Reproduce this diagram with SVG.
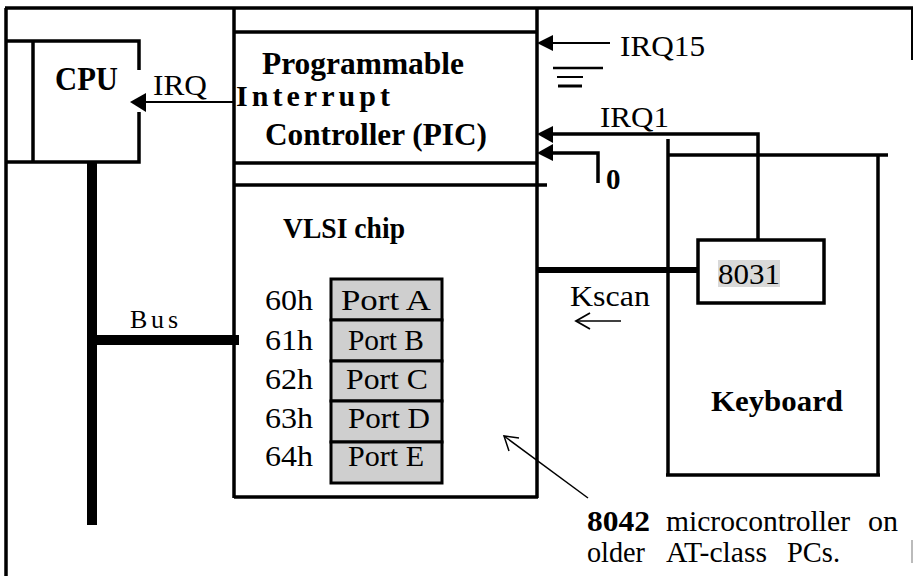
<svg xmlns="http://www.w3.org/2000/svg" width="914" height="576" viewBox="0 0 914 576" font-family="Liberation Serif, Times New Roman, serif" font-size="30">
<style>
  .ln{stroke:#000;stroke-width:3.5;fill:none}
  .thin{stroke:#000;stroke-width:2;fill:none}
  .t{fill:#000}
  .b{font-weight:bold}
  .port{fill:#cfcfcf;stroke:#000;stroke-width:3}
  .ah{fill:#000}
</style>
<rect width="914" height="576" fill="#fff"/>
<g id="frame">
  <line class="ln" x1="5" y1="8" x2="913" y2="8"/>
  <line class="ln" x1="6" y1="8" x2="6" y2="576"/>
  <line class="thin" x1="912" y1="8" x2="912" y2="60"/>
  <line stroke="#bbb" stroke-width="2" x1="912" y1="540" x2="912" y2="563"/>
</g>
<g id="cpu">
  <polyline class="ln" points="139,70 139,41 6,41"/>
  <polyline class="ln" points="139,112 139,162 6,162"/>
  <line class="ln" x1="33" y1="41" x2="33" y2="162"/>
  <text class="t b" x="55" y="90" font-size="33" textLength="63" lengthAdjust="spacingAndGlyphs">CPU</text>
</g>
<g id="pic">
  <line class="ln" x1="234" y1="8" x2="234" y2="498"/>
  <line class="ln" x1="537" y1="8" x2="537" y2="498"/>
  <line class="ln" x1="234" y1="32" x2="537" y2="32"/>
  <line class="ln" x1="234" y1="163" x2="537" y2="163"/>
  <text class="t b" x="262" y="74" font-size="31" textLength="202" lengthAdjust="spacingAndGlyphs">Programmable</text>
  <text class="t b" x="236" y="106" font-size="30" textLength="154" lengthAdjust="spacing">Interrupt</text>
  <text class="t b" x="265" y="145" font-size="31" textLength="222" lengthAdjust="spacingAndGlyphs">Controller (PIC)</text>
</g>
<g id="vlsi">
  <line class="ln" x1="234" y1="185" x2="547" y2="185"/>
  <line class="ln" x1="234" y1="497" x2="538" y2="497"/>
  <text class="t b" x="283" y="238" textLength="122" lengthAdjust="spacingAndGlyphs">VLSI chip</text>
</g>
<g id="ports">
  <rect class="port" x="331" y="279" width="111" height="41"/>
  <rect class="port" x="331" y="320" width="111" height="41"/>
  <rect class="port" x="331" y="361" width="111" height="40"/>
  <rect class="port" x="331" y="401" width="111" height="41"/>
  <rect class="port" x="331" y="442" width="111" height="41"/>
  <text class="t" x="386" y="310" text-anchor="middle" textLength="90" lengthAdjust="spacingAndGlyphs">Port A</text>
  <text class="t" x="386" y="350" text-anchor="middle" textLength="76" lengthAdjust="spacingAndGlyphs">Port B</text>
  <text class="t" x="387" y="389" text-anchor="middle" textLength="82" lengthAdjust="spacingAndGlyphs">Port C</text>
  <text class="t" x="389" y="428" text-anchor="middle" textLength="82" lengthAdjust="spacingAndGlyphs">Port D</text>
  <text class="t" x="386" y="466" text-anchor="middle" textLength="76" lengthAdjust="spacingAndGlyphs">Port E</text>
  <text class="t" x="265" y="310" textLength="48" lengthAdjust="spacingAndGlyphs">60h</text>
  <text class="t" x="265" y="350" textLength="48" lengthAdjust="spacingAndGlyphs">61h</text>
  <text class="t" x="265" y="389" textLength="48" lengthAdjust="spacingAndGlyphs">62h</text>
  <text class="t" x="265" y="428" textLength="48" lengthAdjust="spacingAndGlyphs">63h</text>
  <text class="t" x="265" y="466" textLength="48" lengthAdjust="spacingAndGlyphs">64h</text>
</g>
<g id="keyboard">
  <line class="ln" x1="668" y1="139" x2="668" y2="476"/>
  <line class="ln" x1="668" y1="155" x2="888" y2="155"/>
  <line class="ln" x1="878" y1="155" x2="878" y2="476"/>
  <line class="ln" x1="666" y1="475" x2="880" y2="475"/>
  <text class="t b" x="711" y="411" textLength="132" lengthAdjust="spacingAndGlyphs">Keyboard</text>
</g>
<g id="kb8031">
  <rect class="ln" x="698" y="240" width="126" height="63" fill="#fff"/>
  <rect x="718" y="260" width="62" height="27" fill="#d9d9d9"/>
  <text class="t" x="718" y="284" textLength="62" lengthAdjust="spacingAndGlyphs">8031</text>
</g>
<g id="ground">
  <line stroke="#000" stroke-width="2.5" x1="553" y1="68" x2="603" y2="68"/>
  <line stroke="#000" stroke-width="2" x1="557" y1="77" x2="583" y2="77"/>
  <line stroke="#000" stroke-width="3" x1="558" y1="86" x2="582" y2="86"/>
</g>
<g id="connectors">
  <line class="thin" x1="145" y1="102" x2="234" y2="102" stroke-width="2.5"/>
  <polygon class="ah" points="130,102 146,93 146,112"/>
  <line stroke="#000" stroke-width="10" x1="92" y1="162" x2="92" y2="525"/>
  <line stroke="#000" stroke-width="10" x1="92" y1="340" x2="239" y2="340"/>
  <line class="thin" x1="552" y1="43" x2="610" y2="43" stroke-width="2.5"/>
  <polygon class="ah" points="537,43 553,35 553,51"/>
  <polyline class="ln" points="552,134 758,134 758,240" stroke-width="3"/>
  <polygon class="ah" points="537,134 553,126 553,143"/>
  <polyline class="ln" points="552,153 598,153 598,183" stroke-width="3"/>
  <polygon class="ah" points="537,153 553,144 553,161"/>
  <line stroke="#000" stroke-width="6" x1="537" y1="270" x2="698" y2="270"/>
  <line stroke="#000" stroke-width="1.5" x1="576" y1="321" x2="621" y2="321"/>
  <polyline stroke="#000" stroke-width="1.8" fill="none" points="590,313 576,321 590,329"/>
  <line stroke="#000" stroke-width="1.5" x1="588" y1="498" x2="504" y2="436"/>
  <polyline stroke="#000" stroke-width="1.5" fill="none" points="519,438 504,436 509,451"/>
</g>
<g id="labels">
  <text class="t" x="153" y="95" textLength="54" lengthAdjust="spacingAndGlyphs">IRQ</text>
  <text class="t" x="130" y="328" font-size="26" textLength="48" lengthAdjust="spacing">Bus</text>
  <text class="t" x="620" y="56" textLength="85" lengthAdjust="spacingAndGlyphs">IRQ15</text>
  <text class="t" x="600" y="127" textLength="69" lengthAdjust="spacingAndGlyphs">IRQ1</text>
  <text class="t b" x="606" y="189" font-size="29">0</text>
  <text class="t" x="570" y="306" textLength="80" lengthAdjust="spacingAndGlyphs">Kscan</text>
  <text class="t b" x="587" y="531" textLength="63" lengthAdjust="spacingAndGlyphs">8042</text>
  <text class="t" x="666" y="531" textLength="184" lengthAdjust="spacingAndGlyphs">microcontroller</text>
  <text class="t" x="868" y="531" textLength="30" lengthAdjust="spacingAndGlyphs">on</text>
  <text class="t" x="587" y="562" textLength="58" lengthAdjust="spacingAndGlyphs">older</text>
  <text class="t" x="666" y="562" textLength="101" lengthAdjust="spacingAndGlyphs">AT-class</text>
  <text class="t" x="787" y="562" textLength="53" lengthAdjust="spacingAndGlyphs">PCs.</text>
</g>
</svg>
